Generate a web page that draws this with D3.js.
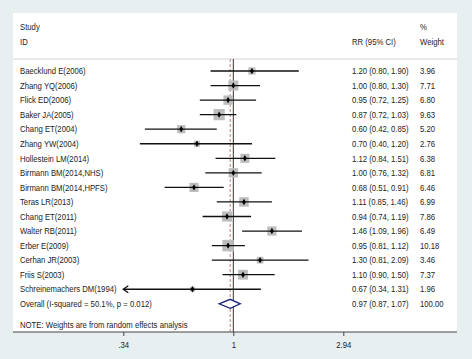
<!DOCTYPE html>
<html>
<head>
<meta charset="utf-8">
<script src="https://cdn.jsdelivr.net/npm/d3@7"></script>
<style>
  body { margin: 0; background: #e7eff1; }
  svg { display: block; font-family: "Liberation Sans", Arial, sans-serif; }
</style>
</head>
<body>
<svg id="chart"></svg>
<script>
// study data
var studies = ["Baecklund E(2006)", "Zhang YQ(2006)", "Flick ED(2006)", "Baker JA(2005)",
    "Chang ET(2004)", "Zhang YW(2004)", "Hollestein LM(2014)", "Birmann BM(2014,NHS)",
    "Birmann BM(2014,HPFS)", "Teras LR(2013)", "Chang ET(2011)", "Walter RB(2011)",
    "Erber E(2009)", "Cerhan JR(2003)", "Friis S(2003)", "Schreinemachers DM(1994)"];
var rr = [1.20, 1.00, 0.95, 0.87, 0.60, 0.70, 1.12, 1.00, 0.68, 1.11, 0.94, 1.46, 0.95, 1.30, 1.10, 0.67];
var lower = [0.80, 0.80, 0.72, 0.72, 0.42, 0.40, 0.84, 0.76, 0.51, 0.85, 0.74, 1.09, 0.81, 0.81, 0.90, 0.34];
var upper = [1.90, 1.30, 1.25, 1.03, 0.85, 1.20, 1.51, 1.32, 0.91, 1.46, 1.19, 1.96, 1.12, 2.09, 1.50, 1.31];
var weights = ["3.96", "7.71", "6.80", "9.63", "5.20", "2.76", "6.38", "6.81", "6.46", "6.99", "7.86", "6.49", "10.18", "3.46", "7.37", "1.96"];
var overall = { rr: 0.97, lower: 0.87, upper: 1.07, weight: "100.00", label: "Overall  (I-squared = 50.1%, p = 0.012)" };
var tickVals = [0.34, 1, 2.94];
var tickLabels = [".34", "1", "2.94"];

var width = 472, height = 359;
var panel = { left: 13, top: 13, right: 457, bottom: 332 };

var svg = d3.select("#chart").attr("width", width).attr("height", height);

// white plot panel
svg.append("rect")
    .attr("x", panel.left)
    .attr("y", panel.top)
    .attr("width", panel.right - panel.left)
    .attr("height", panel.bottom - panel.top)
    .style("fill", "white");

var x = d3.scaleLog().domain([0.34, 2.94]).range([123.3, 343.3]);
var y = d3.scaleLinear().domain([0, 16]).range([71, 303.8]);

// text is a bit condensed in the original
function cell(txt, xp, yp, anchor) {
    return svg.append("text")
        .attr("transform", "translate(" + xp + "," + yp + ") scale(0.86,1)")
        .style("font-size", "9px")
        .style("text-anchor", anchor || "start")
        .style("fill", "#1c1c1c")
        .text(txt);
}

// headers
cell("Study", 20, 30);
cell("ID", 20, 45);
cell("RR (95% CI)", 352, 45);
cell("%", 420, 30);
cell("Weight", 420, 45);

svg.append("line")
    .attr("x1", panel.left).attr("x2", panel.right)
    .attr("y1", 59).attr("y2", 59)
    .style("stroke", "#d4d4d4")
    .style("stroke-width", 1);

// null line and overall dashed line
svg.append("line")
    .attr("x1", x(1)).attr("x2", x(1))
    .attr("y1", 59).attr("y2", panel.bottom)
    .style("stroke", "#333")
    .style("stroke-width", 1);
svg.append("line")
    .attr("x1", x(overall.rr)).attr("x2", x(overall.rr))
    .attr("y1", 59).attr("y2", panel.bottom)
    .style("stroke", "#c48080")
    .style("stroke-width", 1)
    .style("stroke-dasharray", "3,2");

var fmt = d3.format(".2f");
var rows = studies.map(function (s, i) {
    return { name: s, rr: rr[i], lo: lower[i], hi: upper[i], w: weights[i], i: i };
});

var g = svg.append("g");
// weight boxes
g.selectAll("rect.box")
    .data(rows)
    .enter()
    .append("rect")
    .attr("class", "box")
    .attr("x", function (d) { return x(d.rr) - 1.8 * Math.sqrt(+d.w); })
    .attr("y", function (d) { return y(d.i) - 1.8 * Math.sqrt(+d.w); })
    .attr("width", function (d) { return 3.6 * Math.sqrt(+d.w); })
    .attr("height", function (d) { return 3.6 * Math.sqrt(+d.w); })
    .style("fill", "#bdbdbd");
// confidence intervals
g.selectAll("line.ci")
    .data(rows)
    .enter()
    .append("line")
    .attr("class", "ci")
    .attr("x1", function (d) { return x(Math.max(d.lo, 0.34)); })
    .attr("x2", function (d) { return x(d.hi); })
    .attr("y1", function (d) { return y(d.i); })
    .attr("y2", function (d) { return y(d.i); })
    .style("stroke", "#111")
    .style("stroke-width", 1.3);
// arrow for truncated CI
g.selectAll("path.arrow")
    .data(rows.filter(function (d) { return d.lo <= 0.34; }))
    .enter()
    .append("path")
    .attr("class", "arrow")
    .attr("d", function (d) {
        var x0 = x(0.34), y0 = y(d.i);
        return "M" + (x0 + 5) + "," + (y0 - 3.5) + "L" + x0 + "," + y0 + "L" + (x0 + 5) + "," + (y0 + 3.5);
    })
    .style("fill", "none")
    .style("stroke", "#111")
    .style("stroke-width", 1.3);
// point estimates
g.selectAll("path.pt")
    .data(rows)
    .enter()
    .append("path")
    .attr("class", "pt")
    .attr("transform", function (d) { return "translate(" + x(d.rr) + "," + y(d.i) + ")"; })
    .attr("d", d3.symbol().type(d3.symbolDiamond).size(12))
    .style("fill", "#000");

// row labels
rows.forEach(function (d) {
    cell(d.name, 20, y(d.i) + 3.2);
    cell(fmt(d.rr) + " (" + fmt(d.lo) + ", " + fmt(d.hi) + ")", 352, y(d.i) + 3.2);
    cell(d.w, 420, y(d.i) + 3.2);
});

// overall diamond
var oy = y(16);
svg.append("path")
    .attr("d", "M" + x(overall.lower) + "," + oy + "L" + x(overall.rr) + "," + (oy - 4.5) +
        "L" + x(overall.upper) + "," + oy + "L" + x(overall.rr) + "," + (oy + 4.5) + "Z")
    .style("fill", "white")
    .style("stroke", "#1a237e")
    .style("stroke-width", 1.3);
cell(overall.label, 20, oy + 3.2);
cell(fmt(overall.rr) + " (" + fmt(overall.lower) + ", " + fmt(overall.upper) + ")", 352, oy + 3.2);
cell(overall.weight, 420, oy + 3.2);

cell("NOTE: Weights are from random effects analysis", 20, 328);

// x axis
svg.append("line")
    .attr("x1", panel.left).attr("x2", panel.right)
    .attr("y1", panel.bottom).attr("y2", panel.bottom)
    .style("stroke", "#444")
    .style("stroke-width", 1);
var axis = svg.append("g")
    .attr("transform", "translate(0," + panel.bottom + ")")
    .call(d3.axisBottom(x).tickValues(tickVals).tickSize(4)
        .tickFormat(function (d, i) { return tickLabels[i]; }));
axis.select(".domain").remove();
axis.selectAll("line").style("stroke", "#444");
axis.selectAll("text")
    .attr("y", 10)
    .attr("transform", "scale(0.86,1)")
    .attr("x", 0)
    .style("font-size", "9px")
    .style("font-family", "Liberation Sans, Arial, sans-serif")
    .style("fill", "#1c1c1c");
</script>
</body>
</html>
